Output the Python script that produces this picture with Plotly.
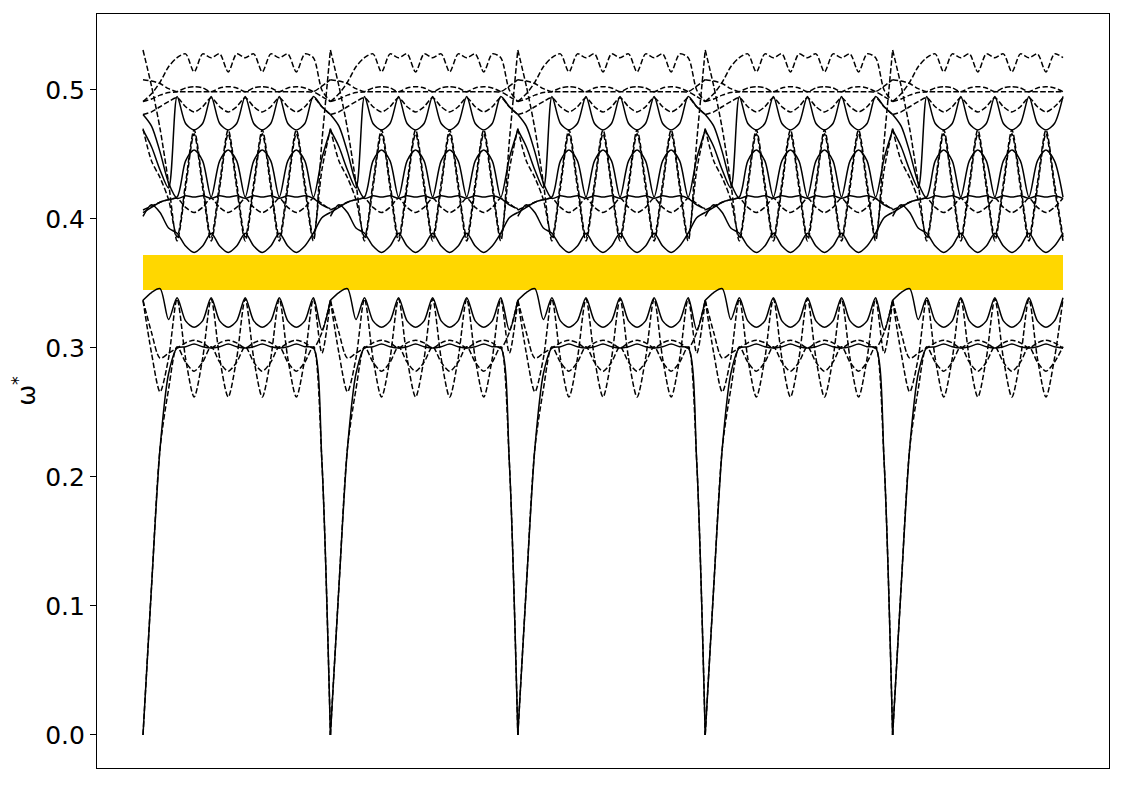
import plotly.graph_objects as go

# k-path: 5 identical legs, 22 k-steps per leg, the last leg stops at step 20
N_LEGS = 5
STEPS_PER_LEG = 22
LAST_LEG_STEPS = 20

# band gap edges (omega*)
GAP_EDGES = [0.345, 0.372]

Y_RANGE = [-0.0256, 0.5589]
Y_TICKS = [0.0, 0.1, 0.2, 0.3, 0.4, 0.5]
Y_TICK_LABELS = ["0.0", "0.1", "0.2", "0.3", "0.4", "0.5"]

# One leg of every band, omega* read at k-steps 0..22
# solid branches
SOLID_ACOUSTIC = [0.000, 0.115, 0.222, 0.280, 0.300, 0.301, 0.303, 0.301, 0.300, 0.301, 0.303, 0.301,
                  0.300, 0.301, 0.303, 0.301, 0.300, 0.301, 0.303, 0.301, 0.300, 0.212, 0.000]
SOLID_LOW = [0.337, 0.343, 0.346, 0.322, 0.339, 0.321, 0.316, 0.321, 0.339, 0.321, 0.316, 0.321,
             0.339, 0.321, 0.316, 0.321, 0.339, 0.321, 0.316, 0.321, 0.339, 0.314, 0.337]
SOLID_GAP_EDGE = [0.402, 0.411, 0.405, 0.393, 0.389, 0.379, 0.374, 0.379, 0.389, 0.379, 0.374, 0.379,
                  0.389, 0.379, 0.374, 0.379, 0.389, 0.379, 0.374, 0.379, 0.389, 0.401, 0.405]
SOLID_FLAT = [0.481, 0.472, 0.452, 0.428, 0.416, 0.418, 0.417, 0.418, 0.416, 0.418, 0.417, 0.418,
              0.416, 0.418, 0.417, 0.418, 0.416, 0.418, 0.417, 0.418, 0.416, 0.411, 0.408]
SOLID_HUMP = [0.405, 0.409, 0.413, 0.415, 0.417, 0.445, 0.4535, 0.445, 0.417, 0.445, 0.4535, 0.445,
              0.417, 0.445, 0.4535, 0.445, 0.417, 0.445, 0.4535, 0.445, 0.417, 0.447, 0.469]
SOLID_TOP = [0.469, 0.456, 0.438, 0.424, 0.495, 0.474, 0.469, 0.474, 0.495, 0.474, 0.469, 0.474,
             0.495, 0.474, 0.469, 0.474, 0.495, 0.474, 0.469, 0.474, 0.495, 0.487, 0.481]

# dashed branches
DASH_ACOUSTIC = [0.000, 0.115, 0.222, 0.268, 0.301, 0.289, 0.282, 0.289, 0.301, 0.289, 0.282, 0.289,
                 0.301, 0.289, 0.282, 0.289, 0.301, 0.289, 0.282, 0.289, 0.301, 0.212, 0.000]
DASH_DEEP = [0.337, 0.296, 0.266, 0.292, 0.338, 0.292, 0.262, 0.292, 0.338, 0.292, 0.262, 0.292,
             0.338, 0.292, 0.262, 0.292, 0.338, 0.292, 0.262, 0.292, 0.338, 0.296, 0.337]
DASH_ARCS = [0.337, 0.312, 0.292, 0.296, 0.300, 0.304, 0.306, 0.304, 0.300, 0.304, 0.306, 0.304,
             0.300, 0.304, 0.306, 0.304, 0.300, 0.304, 0.306, 0.304, 0.300, 0.312, 0.337]
DASH_SPIKE_1 = [0.470, 0.445, 0.432, 0.415, 0.386, 0.428, 0.469, 0.428, 0.386, 0.428, 0.469, 0.428,
                0.386, 0.428, 0.469, 0.428, 0.386, 0.428, 0.469, 0.428, 0.386, 0.438, 0.470]
DASH_SPIKE_2 = [0.531, 0.503, 0.470, 0.428, 0.383, 0.424, 0.466, 0.424, 0.383, 0.424, 0.466, 0.424,
                0.383, 0.424, 0.466, 0.424, 0.383, 0.424, 0.466, 0.424, 0.383, 0.460, 0.531]
DASH_DIP = [0.407, 0.410, 0.413, 0.415, 0.416, 0.409, 0.405, 0.409, 0.416, 0.409, 0.405, 0.409,
            0.416, 0.409, 0.405, 0.409, 0.416, 0.409, 0.405, 0.409, 0.416, 0.412, 0.407]
DASH_SCALLOP = [0.481, 0.483, 0.487, 0.491, 0.494, 0.487, 0.483, 0.487, 0.494, 0.487, 0.483, 0.487,
                0.494, 0.487, 0.483, 0.487, 0.494, 0.487, 0.483, 0.487, 0.494, 0.487, 0.481]
DASH_FLAT = [0.508, 0.507, 0.505, 0.501, 0.4987, 0.4987, 0.4987, 0.4987, 0.4987, 0.4987, 0.4987, 0.4987,
             0.4987, 0.4987, 0.4987, 0.4987, 0.4987, 0.4987, 0.4987, 0.4987, 0.4987, 0.503, 0.508]
DASH_ARCH = [0.491, 0.493, 0.496, 0.498, 0.4987, 0.5016, 0.5026, 0.5016, 0.4987, 0.5016, 0.5026, 0.5016,
             0.4987, 0.5016, 0.5026, 0.5016, 0.4987, 0.5016, 0.5026, 0.5016, 0.4987, 0.495, 0.491]
DASH_TOP = [0.491, 0.497, 0.506, 0.518, 0.525, 0.528, 0.514, 0.528, 0.525, 0.528, 0.514, 0.528,
            0.525, 0.528, 0.514, 0.528, 0.525, 0.528, 0.514, 0.528, 0.525, 0.500, 0.491]

SOLID_BANDS = [SOLID_ACOUSTIC, SOLID_LOW, SOLID_GAP_EDGE, SOLID_FLAT, SOLID_HUMP, SOLID_TOP]
DASHED_BANDS = [DASH_ACOUSTIC, DASH_DEEP, DASH_ARCS, DASH_SPIKE_1, DASH_SPIKE_2, DASH_DIP,
                DASH_SCALLOP, DASH_FLAT, DASH_ARCH, DASH_TOP]

FONT = "DejaVu Sans"
GAP_COLOR = "#FFD700"


def tile_leg(values):
    """Repeat one leg of a band along the whole k-path (legs split by None)."""
    xs, ys = [], []
    for leg in range(N_LEGS):
        n = STEPS_PER_LEG if leg < N_LEGS - 1 else LAST_LEG_STEPS
        for k in range(n + 1):
            xs.append(leg + k / STEPS_PER_LEG)
            ys.append(values[k])
        xs.append(None)
        ys.append(None)
    return xs, ys


fig = go.Figure()

for band in SOLID_BANDS:
    xs, ys = tile_leg(band)
    fig.add_trace(go.Scatter(x=xs, y=ys, mode="lines", showlegend=False, hoverinfo="skip",
                             line=dict(color="black", width=1.5, shape="spline", smoothing=0.8)))

for band in DASHED_BANDS:
    xs, ys = tile_leg(band)
    fig.add_trace(go.Scatter(x=xs, y=ys, mode="lines", showlegend=False, hoverinfo="skip",
                             line=dict(color="black", width=1.5, shape="spline", smoothing=0.8,
                                       dash="5.5px,2.4px")))

# x range with matplotlib-like 5% padding
x_end = N_LEGS - 1 + LAST_LEG_STEPS / STEPS_PER_LEG
x_pad = 0.05 * x_end

# band gap
fig.add_shape(type="rect", xref="x", yref="y", x0=0, x1=x_end, y0=GAP_EDGES[0], y1=GAP_EDGES[1],
              fillcolor=GAP_COLOR, line=dict(width=0), layer="below")

# page body adds an 8px offset, so the figure is 8px smaller than the window
fig.update_layout(
    width=1117,
    height=777,
    margin=dict(l=89, r=16, t=6, b=17),
    paper_bgcolor="white",
    plot_bgcolor="white",
    font=dict(family=FONT, size=25, color="black"),
)
fig.update_xaxes(
    range=[-x_pad, x_end + x_pad],
    showticklabels=False,
    ticks="",
    showgrid=False,
    zeroline=False,
    showline=True,
    mirror=True,
    linecolor="black",
    linewidth=1.2,
)
fig.update_yaxes(
    range=Y_RANGE,
    tickvals=Y_TICKS,
    ticktext=Y_TICK_LABELS,
    ticks="outside",
    ticklen=6,
    tickwidth=1.2,
    tickcolor="black",
    tickfont=dict(family=FONT, size=25),
    showgrid=False,
    zeroline=False,
    showline=True,
    mirror=True,
    linecolor="black",
    linewidth=1.2,
    title=dict(text="ω<sup>*</sup>", font=dict(family=FONT, size=25), standoff=2),
)

fig.write_html("out.html")
